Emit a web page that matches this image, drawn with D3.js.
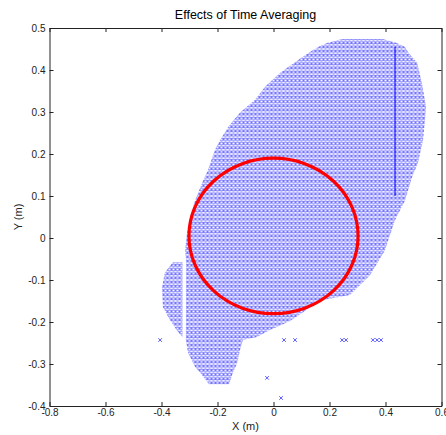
<!DOCTYPE html>
<html>
<head>
<meta charset="utf-8">
<script src="https://cdn.jsdelivr.net/npm/d3@7"></script>
<style>
  body { margin: 0; background: #fff; }
  .chart { width: 446px; height: 435px; }
  text { font-family: "Liberation Sans", Arial, sans-serif; fill: #111; }
</style>
</head>
<body>
<div class="chart"></div>
<script>
// axis ticks
const xTicks = [-0.8, -0.6, -0.4, -0.2, 0, 0.2, 0.4, 0.6];
const yTicks = [-0.4, -0.3, -0.2, -0.1, 0, 0.1, 0.2, 0.3, 0.4, 0.5];

// outline of the dense marker cloud (x, y in m)
const bodyX = [0.245, 0.391, 0.441, 0.470, 0.480, 0.513, 0.530, 0.545, 0.541, 0.534, 0.516, 0.495, 0.470, 0.434, 0.398, 0.345, 0.273, 0.155, 0.141, 0.112, 0.077, 0.052, -0.013, -0.059, -0.109, -0.120, -0.130, -0.145, -0.159, -0.230, -0.262, -0.280, -0.305, -0.313, -0.312, -0.316, -0.309, -0.298, -0.280, -0.255, -0.234, -0.209, -0.191, -0.162, -0.120, -0.066, -0.030, 0.023, 0.088, 0.130, 0.159, 0.191];
const bodyY = [0.474, 0.474, 0.464, 0.455, 0.443, 0.417, 0.369, 0.312, 0.281, 0.233, 0.179, 0.145, 0.090, 0.043, -0.029, -0.088, -0.136, -0.150, -0.160, -0.174, -0.190, -0.200, -0.219, -0.236, -0.243, -0.267, -0.298, -0.321, -0.348, -0.348, -0.321, -0.307, -0.274, -0.243, -0.057, -0.029, 0.012, 0.050, 0.090, 0.131, 0.162, 0.210, 0.233, 0.264, 0.298, 0.329, 0.360, 0.393, 0.424, 0.443, 0.455, 0.464];

// small lobe on the lower left, split from the body by a thin gap
const lobeX = [-0.325, -0.359, -0.388, -0.398, -0.395, -0.370, -0.341, -0.325];
const lobeY = [-0.057, -0.057, -0.083, -0.117, -0.164, -0.195, -0.224, -0.236];

// stray markers
const strayX = [-0.405, 0.0375, 0.077, 0.245, 0.259, 0.355, 0.370, 0.384, -0.023, 0.027];
const strayY = [-0.243, -0.243, -0.243, -0.243, -0.243, -0.243, -0.243, -0.243, -0.333, -0.381];

// closely packed column of markers on the right
const columnX = [0.434];
const columnY = [0.100, 0.455];

// averaged position ring
const ringCenter = [0, 0.005];
const ringRadius = [0.302, 0.185];

const margin = {top: 28, right: 5, bottom: 29, left: 49.5};
const width = 392;
const height = 378;

let svg = d3.select('.chart')
    .append('svg')
        .attr('width', 446)
        .attr('height', 435);

let defs = svg.append('defs');
let pat = defs.append('pattern')
    .attr('id', 'xmarks')
    .attr('patternUnits', 'userSpaceOnUse')
    .attr('width', 4)
    .attr('height', 4.2);
pat.append('path')
    .attr('d', 'M0.4,0.5L3.6,3.7M3.6,0.5L0.4,3.7')
    .style('stroke', '#5555ff')
    .style('stroke-width', 1)
    .style('fill', 'none');

defs.append('clipPath').attr('id', 'plotclip')
  .append('rect').attr('width', width).attr('height', height);

let g = svg.append('g')
    .attr('transform', `translate(${margin.left}, ${margin.top})`);

let xScale = d3.scaleLinear().domain([-0.8, 0.6]).range([0, width]);
let yScale = d3.scaleLinear().domain([-0.4, 0.5]).range([height, 0]);

g.append('rect')
    .attr('width', width)
    .attr('height', height)
    .style('fill', '#fff');

let plot = g.append('g').attr('clip-path', 'url(#plotclip)');

let outline = d3.line()
    .x(d => xScale(d[0]))
    .y(d => yScale(d[1]))
    .curve(d3.curveLinearClosed);

plot.append('path')
    .attr('d', outline(d3.zip(bodyX, bodyY)))
    .style('fill', 'url(#xmarks)');
plot.append('path')
    .attr('d', outline(d3.zip(lobeX, lobeY)))
    .style('fill', 'url(#xmarks)');

plot.append('line')
    .attr('x1', xScale(columnX[0]))
    .attr('x2', xScale(columnX[0]))
    .attr('y1', yScale(columnY[0]))
    .attr('y2', yScale(columnY[1]))
    .style('stroke', '#0000ff')
    .style('stroke-width', 1);

plot.selectAll('.stray')
    .data(d3.zip(strayX, strayY))
    .join('path')
        .attr('class', 'stray')
        .attr('transform', d => `translate(${xScale(d[0])}, ${yScale(d[1])})`)
        .attr('d', 'M-1.8,-1.8L1.8,1.8M1.8,-1.8L-1.8,1.8')
        .style('stroke', '#4545ff')
        .style('stroke-width', 0.9)
        .style('fill', 'none');

plot.append('ellipse')
    .attr('cx', xScale(ringCenter[0]))
    .attr('cy', yScale(ringCenter[1]))
    .attr('rx', xScale(ringRadius[0]) - xScale(0))
    .attr('ry', yScale(0) - yScale(ringRadius[1]))
    .style('fill', 'none')
    .style('stroke', '#ff0000')
    .style('stroke-width', 3.2);

// axes, MATLAB style: ticks inside on all four sides
const fmt = d => String(d);
let xAxis = d3.axisBottom(xScale).tickValues(xTicks).tickFormat(fmt)
    .tickSizeInner(-4).tickSizeOuter(0).tickPadding(3);
let yAxis = d3.axisLeft(yScale).tickValues(yTicks).tickFormat(fmt)
    .tickSizeInner(-4).tickSizeOuter(0).tickPadding(4);

g.append('g')
    .attr('transform', `translate(0, ${height})`)
    .call(xAxis);
g.append('g').call(yAxis);
g.append('g')
    .call(d3.axisTop(xScale).tickValues(xTicks).tickFormat('').tickSizeInner(-4).tickSizeOuter(0));
g.append('g')
    .attr('transform', `translate(${width}, 0)`)
    .call(d3.axisRight(yScale).tickValues(yTicks).tickFormat('').tickSizeInner(-4).tickSizeOuter(0));

g.selectAll('.domain').style('stroke', '#222');
g.selectAll('.tick line').style('stroke', '#222');
g.selectAll('.tick text')
    .style('font-family', '"Liberation Sans", Arial, sans-serif')
    .style('font-size', '10px')
    .style('fill', '#222');

svg.append('text')
    .attr('x', margin.left + width / 2)
    .attr('y', 19)
    .attr('text-anchor', 'middle')
    .style('font-size', '12.5px')
    .style('fill', '#000')
    .text('Effects of Time Averaging');

svg.append('text')
    .attr('x', margin.left + width / 2)
    .attr('y', 430)
    .attr('text-anchor', 'middle')
    .style('font-size', '11px')
    .style('fill', '#222')
    .text('X (m)');

svg.append('text')
    .attr('transform', `translate(22, ${margin.top + height / 2}) rotate(-90)`)
    .attr('text-anchor', 'middle')
    .style('font-size', '11px')
    .style('fill', '#222')
    .text('Y (m)');
</script>
</body>
</html>
